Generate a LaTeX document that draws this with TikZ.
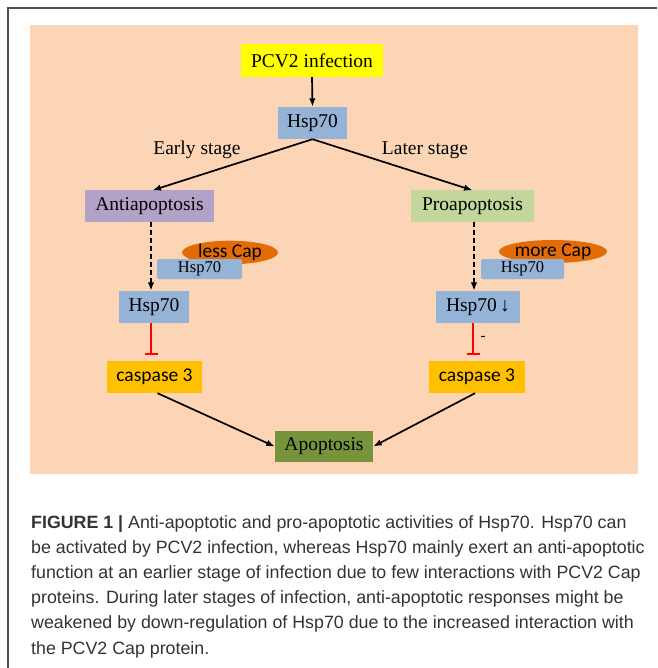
\documentclass[tikz,border=0pt]{standalone}
\usepackage{fontspec}
\setmainfont{Liberation Serif}
\newfontfamily\calfont{Carlito}
\newfontfamily\capfont{Liberation Sans}
\usetikzlibrary{arrows.meta,shapes.geometric}
\definecolor{peach}{HTML}{FBD5B5}
\definecolor{ylw}{HTML}{FFFF00}
\definecolor{hspblue}{HTML}{95B3D7}
\definecolor{purp}{HTML}{B3A2C7}
\definecolor{grn}{HTML}{C3D69B}
\definecolor{capor}{HTML}{E36C09}
\definecolor{casp}{HTML}{FFC000}
\definecolor{apog}{HTML}{77933C}
\definecolor{frame}{HTML}{505050}
\definecolor{captxt}{HTML}{333333}
\tikzset{
  box/.style={inner sep=0pt, font=\fontsize{19.5}{19.5}\selectfont},
  cbox/.style={inner sep=0pt, font=\calfont\fontsize{19.5}{19.5}\selectfont},
  smallbox/.style={inner sep=0pt, rounded corners=2pt, fill=hspblue, font=\fontsize{16.5}{16.5}\selectfont},
  capell/.style={ellipse, inner sep=0pt, fill=capor, font=\calfont\fontsize{19.5}{19.5}\selectfont},
  arr/.style={line width=1.7pt, -{Latex[length=8.5pt,width=6.5pt]}},
  darr/.style={arr, dash pattern=on 5pt off 3pt},
  inh/.style={draw=red, line width=1.6pt, -{Bar[width=13pt,line width=1.6pt]}, shorten >=6pt},
  lbl/.style={inner sep=0pt, font=\fontsize{19.5}{19.5}\selectfont},
  capline/.style={inner sep=0pt, anchor=base west, text=captxt, font=\capfont\fontsize{17.8}{17.8}\selectfont}
}
\begin{document}
\begin{tikzpicture}[x=1pt,y=-1pt]
\useasboundingbox (0,0) rectangle (657,668);
\fill[white] (0,0) rectangle (657,668);
\draw[frame, line width=1.5pt] (8,668) -- (8,8) -- (657,8);
\fill[peach] (30,25) rectangle (638,474);

\node[box, fill=ylw, minimum width=142pt, minimum height=33pt] (pcv) at (312,60.5) {PCV2 infection};
\node[box, fill=hspblue, minimum width=69pt, minimum height=32pt] (h0) at (312.5,123) {Hsp70};
\node[box, fill=purp, minimum width=129pt, minimum height=31pt] (anti) at (149.5,206) {Antiapoptosis};
\node[box, fill=grn, minimum width=123pt, minimum height=31pt] (pro) at (472.5,206) {Proapoptosis};

\node[lbl] (early) at (197,150) {Early stage};
\node[lbl] (later) at (425,150) {Later stage};

\node[capell, minimum width=96pt, minimum height=21pt] (lcap) at (230,252.5) {less Cap};
\node[smallbox, minimum width=85pt, minimum height=20pt] (lh) at (199.5,269) {Hsp70};
\node[capell, minimum width=98pt, minimum height=23pt] (rcap) at (553,251.5) {more Cap};
\node[smallbox, minimum width=83pt, minimum height=20pt] (rh) at (522.5,269) {Hsp70};

\node[box, fill=hspblue, minimum width=70pt, minimum height=32pt] (h1) at (154,307) {Hsp70};
\node[box, fill=hspblue, minimum width=84pt, minimum height=32pt] (h2) at (478,307) {Hsp70\,↓};
\node[cbox, fill=casp, minimum width=95pt, minimum height=32pt] (c1) at (154.5,377) {caspase 3};
\node[cbox, fill=casp, minimum width=96pt, minimum height=32pt] (c2) at (477,377) {caspase 3};
\node[box, fill=apog, minimum width=98pt, minimum height=31pt] (apo) at (324,446.5) {Apoptosis};
\node[inner sep=0pt, font=\calfont\fontsize{16}{16}\selectfont] (minus) at (483,339) {-};

\draw[arr] (pcv.south) -- (h0.north);
\draw[arr] (h0.south) -- ([xshift=3pt]anti.north);
\draw[arr] (h0.south) -- (pro.north);
\draw[darr] ([xshift=1.5pt]anti.south) -- ([xshift=1.5pt]anti.south |- h1.north);
\draw[darr] ([xshift=1.5pt]pro.south) -- ([xshift=1.5pt]pro.south |- h2.north);
\draw[inh] ([xshift=-3pt]h1.south) -- ([xshift=-3pt]h1.south |- c1.north);
\draw[inh] ([xshift=-5pt]h2.south) -- ([xshift=-5pt]h2.south |- c2.north);
\draw[arr] ([xshift=3pt]c1.south) -- (apo.west);
\draw[arr] ([xshift=-2pt]c2.south) -- (apo.east);

\node[capline] (cap1) at (31,528) {{\bfseries FIGURE 1 |} Anti-apoptotic and pro-apoptotic activities of Hsp70. Hsp70 can};
\node[capline] (cap2) at (31,553.2) {be activated by PCV2 infection, whereas Hsp70 mainly exert an anti-apoptotic};
\node[capline] (cap3) at (31,578.4) {function at an earlier stage of infection due to few interactions with PCV2 Cap};
\node[capline] (cap4) at (31,603.6) {proteins. During later stages of infection, anti-apoptotic responses might be};
\node[capline] (cap5) at (31,628.8) {weakened by down-regulation of Hsp70 due to the increased interaction with};
\node[capline] (cap6) at (31,654) {the PCV2 Cap protein.};
\end{tikzpicture}
\end{document}
